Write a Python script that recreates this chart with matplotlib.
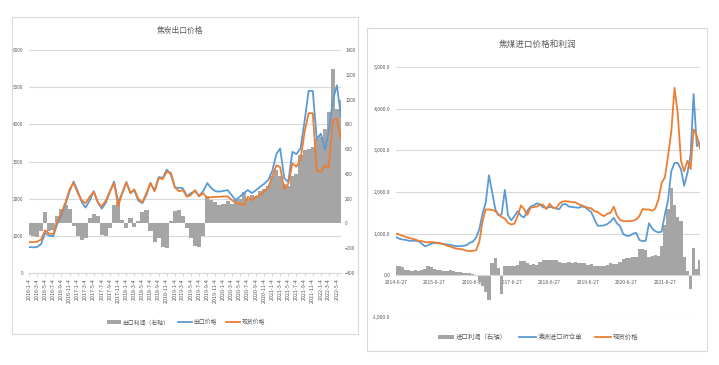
import numpy as np
import pandas as pd
import matplotlib
matplotlib.use('Agg')
from matplotlib import pyplot as plt
from matplotlib.patches import Rectangle
from matplotlib.ticker import FuncFormatter
import matplotlib.dates as mdates

plt.rcParams['font.family'] = ['Noto Sans CJK SC', 'DejaVu Sans']

BLUE = '#5B9BD5'
ORANGE = '#ED7D31'
GREY = '#A5A5A5'
TXT = '#595959'
GRID = '#D9D9D9'

# ---- left chart: 焦炭出口价格 (monthly, 2016-01-04 .. 2022-06-04)
coke_dates = pd.date_range('2016-01-01', periods=78, freq='MS') + pd.Timedelta(days=3)
coke_spot = [830, 830, 840, 900, 1150, 1060, 1050, 1400, 1620, 1900, 2250, 2430,
             2150, 1950, 1880, 2050, 2190, 1900, 1790, 1960, 2200, 2420, 1800, 2150,
             2430, 2150, 2250, 2000, 1900, 2150, 2420, 2200, 2550, 2530, 2720, 2700,
             2300, 2200, 2230, 2050, 2100, 2230, 2060, 2150, 2020, 2040, 2050, 2050,
             2060, 2060, 1970, 1880, 1860, 1830, 2050, 1960, 2050, 2100, 2200, 2300,
             2600, 2900, 2850, 2250, 2400, 2950, 2860, 3050, 3800, 4300, 4300, 2750,
             2720, 2900, 2830, 4100, 4150, 3600]
coke_export = [700, 690, 700, 780, 1080, 1000, 990, 1330, 1560, 1850, 2200, 2460,
               2200, 1900, 1760, 1950, 2200, 1900, 1730, 1900, 2200, 2460, 1900, 2150,
               2450, 2150, 2230, 1950, 1880, 2100, 2420, 2220, 2580, 2560, 2780, 2650,
               2300, 2290, 2280, 2070, 2150, 2200, 2080, 2200, 2420, 2280, 2200, 2190,
               2210, 2230, 2100, 1960, 2050, 2150, 2230, 2150, 2230, 2320, 2400, 2500,
               2750, 3200, 3350, 2550, 2450, 3260, 3200, 3350, 4100, 4900, 4900, 3600,
               3750, 3320, 3800, 4650, 5050, 4200]
coke_profit = [-90, -100, -110, -60, 90, -60, -50, 60, 120, 150, 120, -20,
               -100, -130, -120, 40, 80, 60, -90, -100, -40, 150, 170, 30,
               -40, 40, -30, 20, 90, 110, -60, -150, -120, -190, -200, 20,
               100, 110, 60, -40, -120, -180, -190, -100, 220, 190, 170, 150,
               160, 180, 160, 190, 200, 250, 200, 230, 220, 260, 280, 300,
               380, 430, 380, 320, 300, 380, 400, 550, 590, 600, 620, 680,
               700, 760, 900, 1250, 920, 1000]

# ---- right chart: 焦煤进口价格和利润 (monthly, 2014-06-27 .. 2022-05-27)
coal_dates = pd.date_range('2014-06-01', periods=96, freq='MS') + pd.Timedelta(days=26)
coal_spot = [1000, 980, 950, 920, 900, 880, 860, 830, 820, 800, 790, 800,
             790, 780, 770, 740, 710, 690, 660, 640, 630, 620, 590, 580,
             590, 600, 800, 1300, 1580, 1580, 1570, 1540, 1460, 1400, 1360, 1260,
             1220, 1240, 1420, 1680, 1590, 1450, 1620, 1640, 1650, 1700, 1690, 1590,
             1720, 1620, 1610, 1720, 1770, 1780, 1770, 1760, 1750, 1710, 1680, 1650,
             1620, 1610, 1540, 1520, 1460, 1420, 1480, 1500, 1650, 1440, 1330, 1300,
             1300, 1300, 1310, 1340, 1420, 1590, 1580, 1580, 1550, 1600, 1820, 2220,
             2350, 2860, 3450, 4500, 3900, 2750, 2500, 2750, 2550, 3500, 3350, 3050]
coal_import = [920, 880, 860, 850, 830, 830, 830, 820, 760, 700, 720, 760,
               780, 770, 760, 750, 740, 730, 710, 700, 700, 710, 720, 780,
               810, 900, 1100, 1480, 1740, 2400, 2000, 1580, 1440, 1460, 2050, 1450,
               1320, 1420, 1540, 1430, 1390, 1550, 1650, 1680, 1730, 1700, 1630, 1620,
               1640, 1640, 1600, 1590, 1700, 1710, 1650, 1640, 1630, 1620, 1650, 1640,
               1580, 1520, 1350, 1190, 1190, 1200, 1230, 1290, 1380, 1250, 1180, 990,
               950, 950, 1000, 1020, 850, 820, 830, 1250, 1120, 1060, 1030, 1050,
               1460, 1800, 2500, 2700, 2700, 2550, 2150, 2450, 2900, 4350, 3100, 3200]
coal_profit = [220, 220, 200, 130, 120, 110, 120, 110, 120, 150, 220, 200,
               150, 120, 120, 110, 100, 120, 110, 80, 70, 60, 60, 50,
               30, 20, -150, -250, -400, -600, 300, 420, 180, -450, 220, 220,
               230, 220, 240, 340, 350, 300, 260, 270, 260, 330, 370, 380,
               360, 380, 360, 330, 300, 300, 310, 300, 320, 290, 300, 290,
               260, 270, 230, 220, 220, 230, 260, 300, 280, 280, 330, 400,
               420, 420, 430, 430, 620, 640, 600, 450, 470, 480, 470, 700,
               1200, 1600, 2100, 1700, 1400, 1300, 450, 100, -330, 650, 150, 380]

W, H = 719, 365
fig = plt.figure(figsize=(W / 100, H / 100), dpi=100)


def fbox(x0, y0, x1, y1):
    # pixel box (top-left origin) -> figure fraction [l, b, w, h]
    return [x0 / W, 1 - y1 / H, (x1 - x0) / W, (y1 - y0) / H]


def datefmt(v, pos=None):
    d = mdates.num2date(v)
    return f'{d.year}-{d.month}-{d.day}'


# outer chart frames
for b in (fbox(12, 17, 358, 334), fbox(367, 28, 707, 351)):
    fig.add_artist(Rectangle((b[0], b[1]), b[2], b[3], transform=fig.transFigure,
                             fill=False, ec=GRID, lw=0.8))

# ================= left =================
ax = fig.add_axes(fbox(29, 50, 341, 273))
ax2 = ax.twinx()
ax3 = ax.twinx()

ax2.bar(coke_dates, coke_profit, width=31, color=GREY, lw=0, label='出口利润（右轴）')
ax3.plot(coke_dates, coke_export, color=BLUE, lw=1.3, label='出口价格')
ax3.plot(coke_dates, coke_spot, color=ORANGE, lw=1.3, label='现货价格')

ax.set_ylim(0, 6000)
ax.set_yticks(range(0, 6001, 1000))
ax3.set_ylim(0, 6000)
ax2.set_ylim(-400, 1400)
ax2.set_yticks(range(-400, 1401, 200))
xl = (coke_dates[0], coke_dates[-1])
for a in (ax, ax2, ax3):
    a.set_xlim(xl)
ax3.axis('off')

ax.grid(axis='y', color=GRID, lw=0.8)
ax.set_axisbelow(True)
for a in (ax, ax2):
    for s in a.spines.values():
        s.set_visible(False)
ax.spines['bottom'].set_visible(True)
ax.spines['bottom'].set_color(GRID)
ax.tick_params(axis='y', length=0, labelsize=3.3, labelcolor=TXT, pad=4)
ax2.tick_params(axis='y', length=0, labelsize=3.3, labelcolor=TXT, pad=3)
ax.xaxis.set_major_locator(mdates.MonthLocator(bymonth=range(1, 13, 2), bymonthday=4))
ax.xaxis.set_major_formatter(FuncFormatter(datefmt))
ax.tick_params(axis='x', length=2, color=GRID, labelsize=3.9, labelcolor=TXT,
               rotation=90, pad=2)

fig.text(180 / W, 1 - 31 / H, '焦炭出口价格', ha='center', va='center',
         fontsize=5.6, color=TXT)
h1, l1 = ax2.get_legend_handles_labels()
h2, l2 = ax3.get_legend_handles_labels()
fig.legend(h1 + h2, l1 + l2, loc='center', bbox_to_anchor=(186 / W, 1 - 322 / H),
           ncol=3, frameon=False, fontsize=4.2, handlelength=2.4, handletextpad=0.2,
           columnspacing=1.6, labelcolor=TXT)

# ================= right =================
bx = fig.add_axes(fbox(396, 67, 700, 317))
bar = bx.bar(coal_dates, coal_profit, width=31, color=GREY, lw=0)
ln1, = bx.plot(coal_dates, coal_import, color=BLUE, lw=1.3)
ln2, = bx.plot(coal_dates, coal_spot, color=ORANGE, lw=1.3)
bx.set_ylim(-1000, 5000)
bx.set_yticks(range(-1000, 5001, 1000))
bx.yaxis.set_major_formatter(FuncFormatter(lambda v, p: f'{v:,.1f}'))
bx.set_xlim(coal_dates[0], coal_dates[-1])
bx.xaxis.set_major_locator(mdates.MonthLocator(bymonth=6, bymonthday=27))
bx.xaxis.set_major_formatter(FuncFormatter(datefmt))
bx.grid(axis='y', color=GRID, lw=0.8)
bx.set_axisbelow(True)
for s in bx.spines.values():
    s.set_visible(False)
bx.spines['bottom'].set_visible(True)
bx.spines['bottom'].set_position(('data', 0))
bx.spines['bottom'].set_color(GRID)
bx.tick_params(axis='y', length=0, labelsize=3.6, labelcolor=TXT, pad=4)
bx.tick_params(axis='x', length=0, labelsize=3.6, labelcolor=TXT, pad=3)

fig.text(538 / W, 1 - 44 / H, '焦煤进口价格和利润', ha='center', va='center',
         fontsize=6.2, color=TXT)
fig.legend([bar, ln1, ln2], ['进口利润（右轴）', '澳洲进口折仓单', '现货价格'],
           loc='center', bbox_to_anchor=(538 / W, 1 - 337 / H), ncol=3, frameon=False,
           fontsize=4.6, handlelength=2.6, handletextpad=0.2, columnspacing=2.0,
           labelcolor=TXT)

fig.savefig('out.png', dpi=100)
